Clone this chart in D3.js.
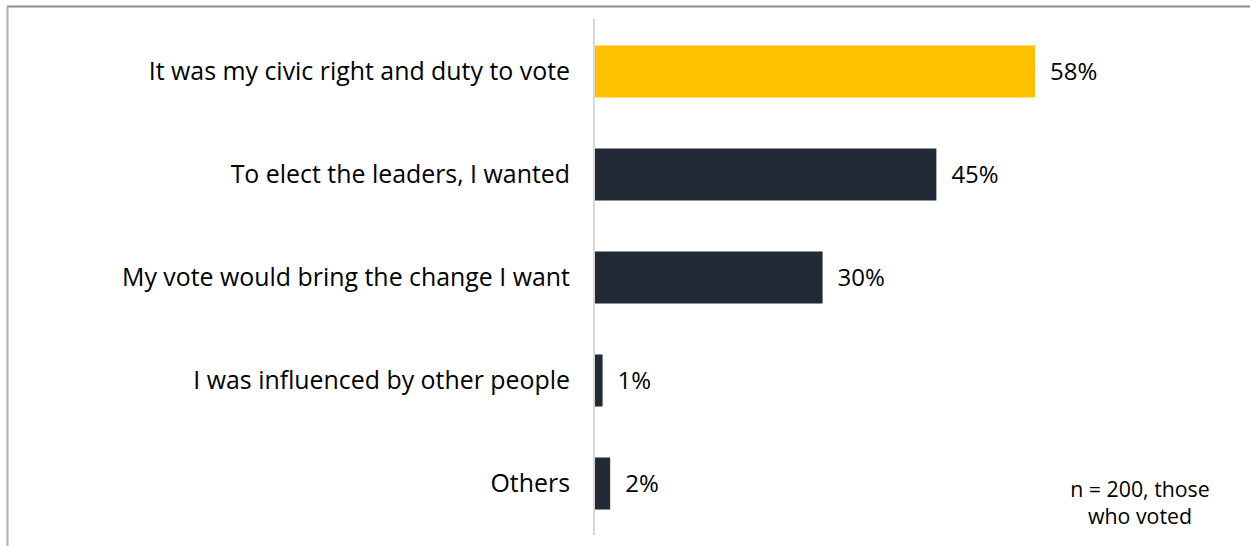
<!DOCTYPE html>
<html>
<head>
<meta charset="utf-8">
<script src="https://cdn.jsdelivr.net/npm/d3@7"></script>
<style>
  html, body { margin: 0; padding: 0; background: #fff; }
  svg { display: block; }
  text { font-family: "Open Sans", Lato, sans-serif; fill: #000; }
</style>
</head>
<body>
<svg id="chart" width="1250" height="546"></svg>
<script>
const categories = [
  "It was my civic right and duty to vote",
  "To elect the leaders, I wanted",
  "My vote would bring the change I want",
  "I was influenced by other people",
  "Others"
];
const values = [58, 45, 30, 1, 2];
const highlight = [true, false, false, false, false];
const valueLabels = ["58%", "45%", "30%", "1%", "2%"];
const footnote = ["n = 200, those", "who voted"];

const svg = d3.select("#chart");
const W = 1250, H = 546;

// frame
svg.append("line").attr("x1", 7).attr("x2", W).attr("y1", 6.5).attr("y2", 6.5)
  .attr("stroke", "#8c8c8c").attr("stroke-width", 2);
svg.append("line").attr("x1", 7.5).attr("x2", 7.5).attr("y1", 6).attr("y2", H)
  .attr("stroke", "#b0b0b0").attr("stroke-width", 2);

const x = d3.scaleLinear().domain([0, 58]).range([595, 1035]);
const y = d3.scaleBand().domain(categories).range([20, 535]).paddingInner(0.495).paddingOuter(0.2475);

// bars
svg.selectAll("rect.bar").data(categories).join("rect")
  .attr("class", "bar")
  .attr("x", x(0))
  .attr("y", d => y(d))
  .attr("width", (d, i) => x(values[i]) - x(0))
  .attr("height", y.bandwidth())
  .attr("fill", (d, i) => highlight[i] ? "#FFC000" : "#222A35");

// axis line
svg.append("line").attr("x1", 594).attr("x2", 594).attr("y1", 19).attr("y2", 535)
  .attr("stroke", "#d9d9d9").attr("stroke-width", 2);

// category labels
svg.selectAll("text.cat").data(categories).join("text")
  .attr("class", "cat")
  .attr("x", 570)
  .attr("y", d => y(d) + y.bandwidth() / 2)
  .attr("dy", "0.35em")
  .attr("text-anchor", "end")
  .attr("font-size", 24.9)
  .text(d => d);

// value labels
svg.selectAll("text.val").data(categories).join("text")
  .attr("class", "val")
  .attr("x", (d, i) => x(values[i]) + 15)
  .attr("y", d => y(d) + y.bandwidth() / 2)
  .attr("dy", "0.35em")
  .attr("font-size", 24)
  .text((d, i) => valueLabels[i]);

// footnote
svg.append("text")
  .attr("x", 1140).attr("y", 497)
  .attr("text-anchor", "middle")
  .attr("font-size", 21.3)
  .selectAll("tspan").data(footnote).join("tspan")
  .attr("x", 1140)
  .attr("dy", (d, i) => i === 0 ? 0 : 27)
  .text(d => d);
</script>
</body>
</html>
